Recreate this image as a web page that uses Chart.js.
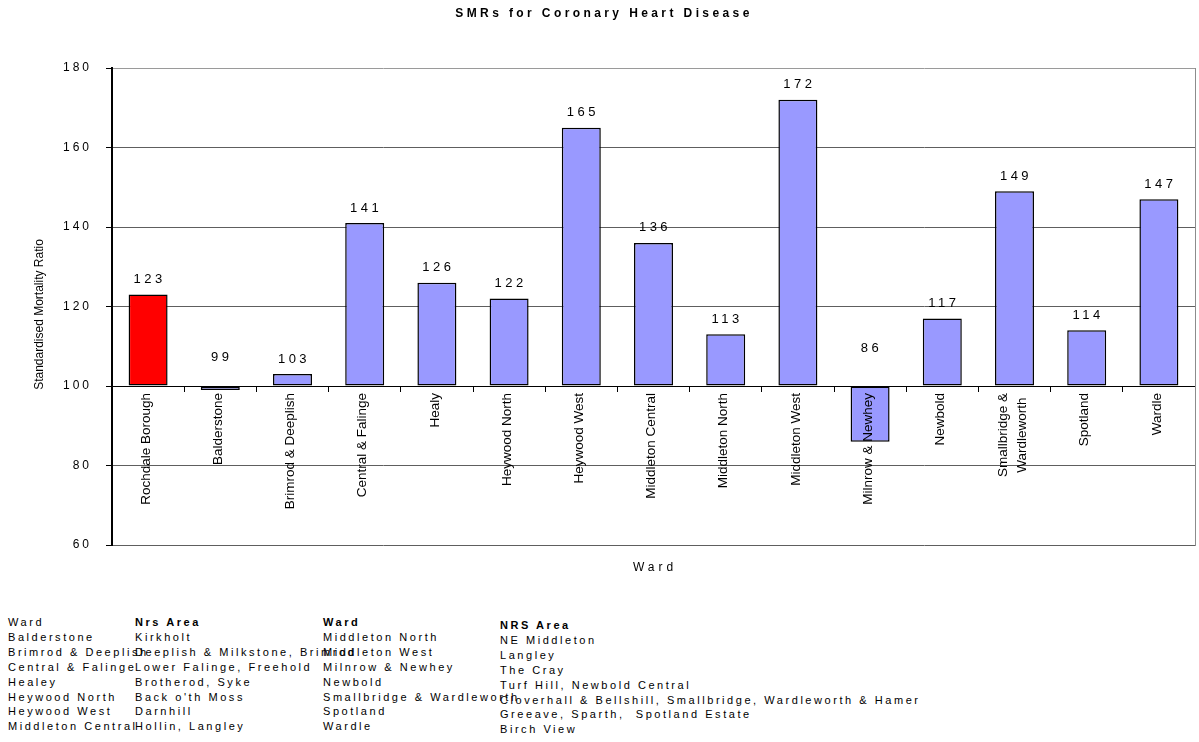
<!DOCTYPE html>
<html>
<head>
<meta charset="utf-8">
<title>SMRs for Coronary Heart Disease</title>
<script src="https://cdn.jsdelivr.net/npm/chart.js@4"></script>
<style>
    body { margin: 0; background: #fff; }
    #grafico { position: absolute; left: 0; top: 0; }
    .columna {
        position: absolute;
        font-family: "Liberation Sans", Arial, sans-serif;
        font-size: 11px;
        line-height: 14.9px;
        letter-spacing: 2.55px;
        white-space: pre;
        color: #000;
    }
    .columna b { font-weight: bold; }
</style>
</head>
<body>
<canvas id="grafico" width="1199" height="600"></canvas>
<div class="columna" id="col1" style="left:8px; top:615px;"></div>
<div class="columna" id="col2" style="left:135px; top:615px;"></div>
<div class="columna" id="col3" style="left:323px; top:615px;"></div>
<div class="columna" id="col4" style="left:500px; top:618px;"></div>
<script>
// Barrios y razones de mortalidad estandarizadas
const barrios = [
    "Rochdale Borough", "Balderstone", "Brimrod & Deeplish", "Central & Falinge", "Healy",
    "Heywood North", "Heywood West", "Middleton Central", "Middleton North", "Middleton West",
    "Milnrow & Newhey", "Newbold", ["Smallbridge &", "Wardleworth"], "Spotland", "Wardle"
];
const smr = [123, 99, 103, 141, 126, 122, 165, 136, 113, 172, 86, 117, 149, 114, 147];
const colores = ["#ff0000", "#9999ff", "#9999ff", "#9999ff", "#9999ff", "#9999ff", "#9999ff", "#9999ff",
    "#9999ff", "#9999ff", "#9999ff", "#9999ff", "#9999ff", "#9999ff", "#9999ff"];
const BASE = 100;

// Tabla de correspondencia barrio / area NRS
const tablaBarrios1 = ["Balderstone", "Brimrod & Deeplish", "Central & Falinge", "Healey",
    "Heywood North", "Heywood West", "Middleton Central"];
const tablaAreas1 = ["Kirkholt", "Deeplish & Milkstone, Brimrod", "Lower Falinge, Freehold",
    "Brotherod, Syke", "Back o'th Moss", "Darnhill", "Hollin, Langley"];
const tablaBarrios2 = ["Middleton North", "Middleton West", "Milnrow & Newhey", "Newbold",
    "Smallbridge & Wardleworth", "Spotland", "Wardle"];
const tablaAreas2 = ["NE Middleton", "Langley", "The Cray", "Turf Hill, Newbold Central",
    "Cloverhall & Bellshill, Smallbridge, Wardleworth & Hamer", "Greeave, Sparth,  Spotland Estate", "Birch View"];

const FUENTE = '"Liberation Sans", Arial, sans-serif';

function rellenarColumna(id, titulo, negrita, filas) {
    const col = document.getElementById(id);
    const cab = negrita ? `<b>${titulo}</b>` : titulo;
    col.innerHTML = [cab].concat(filas.map(f => f.replace(/&/g, "&amp;"))).join("\n");
}

// Textos dibujados a mano: titulo, etiquetas de valores y de barrios
const textos = {
    id: "textos",
    beforeDraw(chart) {
        chart.ctx.letterSpacing = "3px";
    },
    afterDraw(chart) {
        const { ctx, chartArea, scales } = chart;
        const x = scales.x;
        const y = scales.y;
        const yBase = y.getPixelForValue(BASE);
        ctx.save();

        // borde derecho del area de trazado
        ctx.strokeStyle = "#8c8c8c";
        ctx.lineWidth = 1;
        ctx.beginPath();
        ctx.moveTo(Math.round(chartArea.right) + 0.5, chartArea.top);
        ctx.lineTo(Math.round(chartArea.right) + 0.5, chartArea.bottom + 1);
        ctx.stroke();

        ctx.fillStyle = "#000";

        // titulo
        ctx.letterSpacing = "3.4px";
        ctx.font = "bold 12px " + FUENTE;
        ctx.textAlign = "center";
        ctx.textBaseline = "middle";
        ctx.fillText("SMRs for Coronary Heart Disease", 604, 14);

        // titulo eje x
        ctx.letterSpacing = "4px";
        ctx.font = "12px " + FUENTE;
        ctx.fillText("Ward", 655, 568);

        // valores encima de cada barra
        ctx.letterSpacing = "3.5px";
        ctx.font = "13px " + FUENTE;
        const meta = chart.getDatasetMeta(0);
        meta.data.forEach((barra, i) => {
            let yTexto;
            if (smr[i] >= BASE) {
                yTexto = barra.y - 15;
            } else {
                // las barras por debajo de 100 llevan la etiqueta sobre la base
                yTexto = yBase - 28 - 0.17 * (barra.y - yBase);
            }
            ctx.fillText(String(smr[i]), barra.x + 1.5, yTexto);
        });

        // titulo eje y (sin espaciado)
        ctx.letterSpacing = "0px";
        ctx.font = "12px " + FUENTE;
        ctx.save();
        ctx.translate(40, (chartArea.top + chartArea.bottom) / 2 + 8);
        ctx.rotate(-Math.PI / 2);
        ctx.fillText("Standardised Mortality Ratio", 0, 0);
        ctx.restore();

        // nombres de barrio en vertical bajo la linea de 100
        ctx.font = "13.5px " + FUENTE;
        barrios.forEach((nombre, i) => {
            const lineas = Array.isArray(nombre) ? nombre : [nombre];
            const ancho = Math.max(...lineas.map(l => ctx.measureText(l).width));
            const cx = x.getPixelForValue(i);
            const alto = 19;
            lineas.forEach((linea, j) => {
                ctx.save();
                ctx.translate(cx + (j - (lineas.length - 1) / 2) * alto - 2, yBase + 7 + ancho / 2);
                ctx.rotate(-Math.PI / 2);
                ctx.textAlign = "center";
                ctx.fillText(linea, 0, 0);
                ctx.restore();
            });
        });

        ctx.restore();
    }
};

function dibujarGrafico() {
    const ctx = document.getElementById("grafico").getContext("2d");

    new Chart(ctx, {
        type: "bar",
        data: {
            labels: barrios,
            datasets: [
                {
                    label: "SMR",
                    data: smr,
                    base: BASE,
                    backgroundColor: colores,
                    borderColor: "#000",
                    borderWidth: 1.5,
                    borderSkipped: false,
                    categoryPercentage: 1,
                    barPercentage: 0.54,
                },
            ],
        },
        options: {
            responsive: false,
            animation: false,
            layout: { padding: { left: 0, right: 4, top: 68, bottom: 55 } },
            plugins: {
                legend: { display: false },
                title: { display: false },
                tooltip: { enabled: false },
            },
            scales: {
                x: {
                    type: "category",
                    position: { y: BASE },
                    ticks: { display: false },
                    grid: { offset: true, drawOnChartArea: false, tickLength: 5, tickColor: "#000" },
                    border: { color: "#000", width: 1 },
                },
                y: {
                    min: 60,
                    max: 180,
                    ticks: {
                        stepSize: 20,
                        color: "#000",
                        padding: 14,
                        font: { family: FUENTE, size: 12 },
                    },
                    grid: {
                        color: (c) => (c.tick && c.tick.value === 180 ? "#9a9a9a" : "#5e5e5e"),
                        tickLength: 6,
                        tickColor: "#000",
                    },
                    border: { color: "#000", width: 2 },
                    afterFit(scale) {
                        scale.width = 112;
                    },
                },
            },
        },
        plugins: [textos],
    });
}

rellenarColumna("col1", "Ward", false, tablaBarrios1);
rellenarColumna("col2", "Nrs Area", true, tablaAreas1);
rellenarColumna("col3", "Ward", true, tablaBarrios2);
rellenarColumna("col4", "NRS Area", true, tablaAreas2);
dibujarGrafico();
</script>
</body>
</html>
